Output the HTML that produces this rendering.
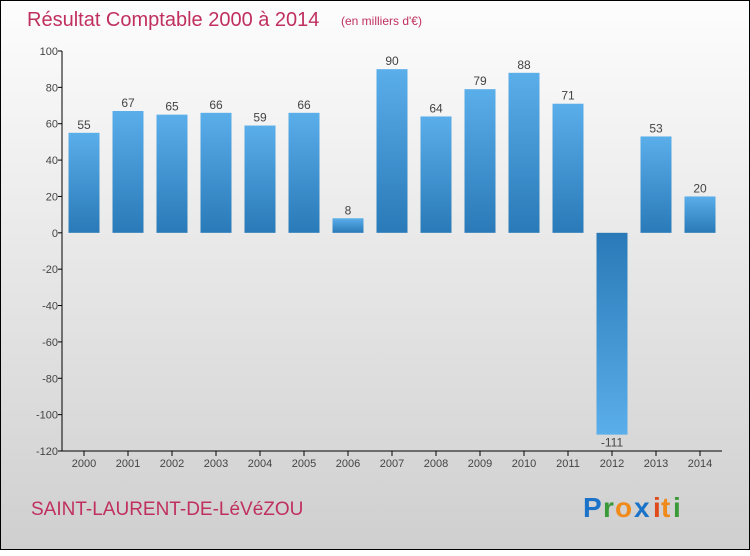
<!DOCTYPE html>
<html><head><meta charset="utf-8"><style>
body{margin:0;width:750px;height:550px;overflow:hidden}
#c{position:absolute;left:0;top:0;width:748px;height:548px;border:1px solid #000;background:linear-gradient(#fdfdfd,#cfcfcf)}
text{font-family:"Liberation Sans",sans-serif}
</style></head><body>
<div id="c">
<svg width="750" height="550" id="s">
<defs><linearGradient id="g" x1="0" y1="0" x2="0" y2="1"><stop offset="0" stop-color="#5aaeea"/><stop offset="1" stop-color="#2a79b8"/></linearGradient>
<linearGradient id="gn" x1="0" y1="0" x2="0" y2="1"><stop offset="0" stop-color="#2a79b8"/><stop offset="1" stop-color="#5aaeea"/></linearGradient></defs>
<text x="26" y="25" font-size="20" fill="#c0305f">Résultat Comptable 2000 à 2014</text>
<text x="340" y="24" font-size="12" fill="#c0305f">(en milliers d'€)</text>
<text x="30" y="514" font-size="19" fill="#c0305f">SAINT-LAURENT-DE-LéVéZOU</text>
<g font-size="28" font-weight="bold" font-family="Liberation Sans">
<text x="582" y="516" fill="#1a73c8">P</text><text x="602" y="516" fill="#3a9a3a">r</text><text x="614" y="516" fill="#f08a1a">o</text><text x="633" y="516" fill="#1a73c8">x</text><text x="652" y="516" fill="#e04a1a">i</text><text x="660" y="516" fill="#f08a1a">t</text><text x="672" y="516" fill="#3a9a3a">i</text></g>
<g id="ax"></g><g id="bars"></g>
</svg></div>
<script>
const years=["2000","2001","2002","2003","2004","2005","2006","2007","2008","2009","2010","2011","2012","2013","2014"];
const values=[55,67,65,66,59,66,8,90,64,79,88,71,-111,53,20];
const ticks=[100,80,60,40,20,0,-20,-40,-60,-80,-100,-120];
const L=61,R=721,T=50,B=450,min=-120,max=100;
const y=v=>T+(max-v)/(max-min)*(B-T);
const step=(R-L)/years.length;
const x=i=>L+step*(i+0.5);
const NS="http://www.w3.org/2000/svg";
function mk(t,a,p){const e=document.createElementNS(NS,t);for(const k in a)e.setAttribute(k,a[k]);p.appendChild(e);return e;}
const ax=document.getElementById('ax'),bg=document.getElementById('bars');
let l=mk('line',{x1:L,y1:T,x2:L,y2:B,stroke:'#000'},ax);


l=mk('line',{x1:L,y1:B,x2:R,y2:B,stroke:'#000'},ax);


ticks.forEach(t=>{
 mk('line',{x1:L-4,y1:y(t),x2:L,y2:y(t),stroke:'#000'},ax);
 const tx=mk('text',{x:L-4,y:y(t)+4,'font-size':11,'text-anchor':'end',fill:'#444'},ax);tx.textContent=String(t);
 
 
});
years.forEach((yr,i)=>{
 mk('line',{x1:x(i),y1:B,x2:x(i),y2:B+5,stroke:'#000'},ax);
 const tx=mk('text',{x:x(i),y:B+16,'font-size':11,'text-anchor':'middle',fill:'#444'},ax);tx.textContent=yr;
 
 
 const v=values[i],y0=y(0),yv=y(v);
 const r=mk('rect',{x:x(i)-15.5,y:Math.min(y0,yv),width:31,height:Math.abs(yv-y0),fill:v>=0?'url(#g)':'url(#gn)'},bg);
 
 
 const lb=mk('text',{x:x(i),y:v>=0?yv-4:yv+12,'font-size':12,'text-anchor':'middle',fill:'#444'},bg);
 lb.textContent=v<0?'-'+Math.abs(v):String(v);
 
 
});
</script>
</body></html>
